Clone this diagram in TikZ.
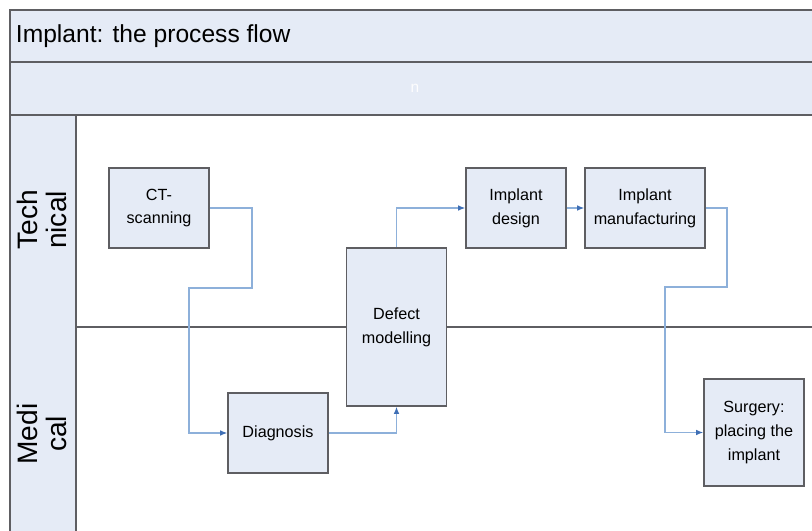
\documentclass[tikz,border=0pt]{standalone}
\usepackage{fontspec}
\setmainfont{Liberation Sans}
\usetikzlibrary{arrows.meta}
\definecolor{laneblue}{HTML}{E5EBF6}
\definecolor{framegray}{HTML}{5E5E62}
\definecolor{flowblue}{HTML}{8DB0DA}
\definecolor{tipblue}{HTML}{3F6FB5}
\tikzset{
	procbox/.style={draw=framegray, line width=1.1pt, fill=laneblue, align=center, inner sep=2pt,
		minimum width=2.5cm, minimum height=2cm, font=\fontsize{11.5}{17}\selectfont},
	flow/.style={draw=flowblue, line width=0.8pt, -{Latex[length=5pt,width=4pt,color=tipblue]}},
	lanelabel/.style={rotate=90, align=center, font=\fontsize{20}{20}\selectfont}
}
\begin{document}
\begin{tikzpicture}[x=0.025cm, y=-0.025cm]
	\useasboundingbox (0,0) rectangle (812,531);
	
	\fill[laneblue] (10,10) rectangle (812,115);
	\fill[laneblue] (10,115) rectangle (76,545);
	\draw[framegray, line width=1.3pt] (812,10) -- (10,10) -- (10,545)
		(10,62) -- (812,62)
		(10,115) -- (812,115)
		(76,115) -- (76,545)
		(76,327) -- (812,327);
	
	\node[anchor=west, font=\fontsize{17.5}{20}\selectfont] at (11,36) (title) {Implant: the process flow};
	\node[text=white!92!laneblue, font=\fontsize{11}{12}\selectfont] at (415,88) (mark) {n};
	\node[lanelabel] at (42,220) (tech) {Tech\\nical};
	\node[lanelabel] at (42,434) (med) {Medi\\cal};
	
	\node[procbox] at (159,208) (ct) {CT-\\scanning};
	\node[procbox] at (278,433) (diag) {Diagnosis};
	\node[procbox, minimum height=3.95cm] at (396.5,327) (defect) {Defect\\modelling};
	\node[procbox] at (516,208) (design) {Implant\\design};
	\node[procbox, minimum width=3cm] at (645,208) (manuf) {Implant\\manufacturing};
	\node[procbox, minimum height=2.675cm] at (754,432.5) (surgery) {Surgery:\\placing the\\implant};
	
	\draw[flow] (ct.east) -| (252,288) -- (189,288) |- (diag.west);
	\draw[flow] (diag.east) -| (defect.south);
	\draw[flow] (defect.north) |- (design.west);
	\draw[flow] (design.east) -- (manuf.west);
	\draw[flow] (manuf.east) -| (727,287) -- (665,287) |- (surgery.west);
\end{tikzpicture}
\end{document}
